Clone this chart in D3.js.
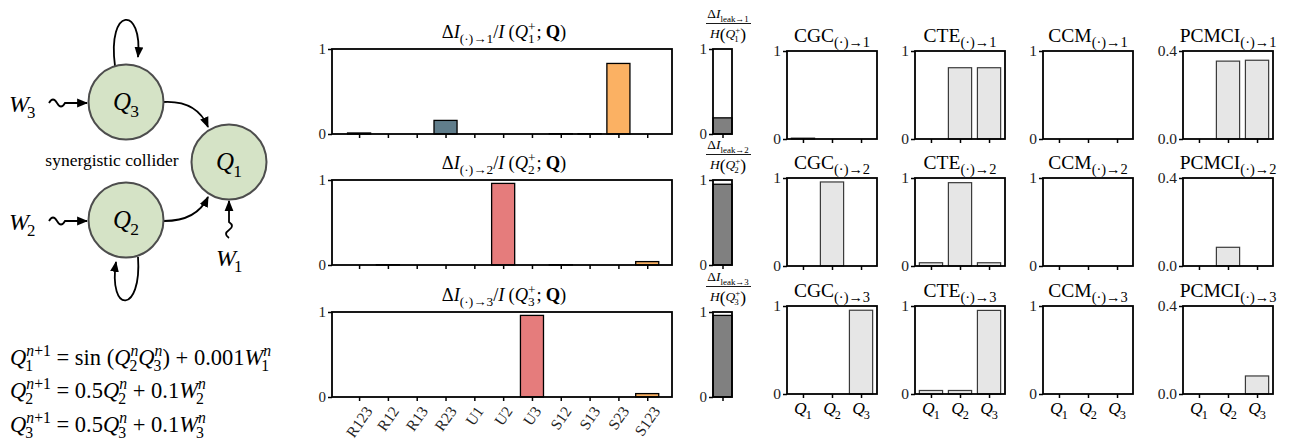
<!DOCTYPE html>
<html>
<head>
<meta charset="UTF-8" />
<script src="https://d3js.org/d3.v7.min.js"></script>
<style>
  body { margin: 0; background: #fff; }
  svg text { font-family: "Liberation Serif", "Times New Roman", serif; white-space: pre; }
</style>
</head>
<body>
<svg width="1293" height="444" font-family="Liberation Serif"></svg>
<script>
// ---- data ----
const cats = ["R123", "R12", "R13", "R23", "U1", "U2", "U3", "S12", "S13", "S23", "S123"];
const dI1 = [0.012, 0, 0, 0.16, 0, 0, 0, 0.004, 0.004, 0.83, 0];
const dI2 = [0, 0.004, 0, 0, 0, 0.96, 0, 0.003, 0, 0, 0.04];
const dI3 = [0, 0, 0, 0, 0, 0, 0.96, 0, 0, 0, 0.04];
const leak = [0.19, 0.95, 0.96];
const qNames = ["1", "2", "3"];
const cgc = [[0.01, 0, 0], [0, 0.955, 0], [0, 0, 0.952]];
const cte = [[0, 0.81, 0.81], [0.037, 0.947, 0.037], [0.04, 0.04, 0.95]];
const ccm = [[0, 0, 0], [0, 0, 0], [0, 0, 0]];
const pcmci = [[0, 0.354, 0.358], [0, 0.085, 0], [0, 0, 0.082]];

const typeColor = { R: "#607d8b", U: "#e57c7c", S: "#fbb163" };
const FONT = "Liberation Serif";

const svg = d3.select("svg");

// arrow head for the diagram
svg.append("defs").append("marker")
  .attr("id", "arr")
  .attr("viewBox", "0 0 10 10")
  .attr("refX", 9).attr("refY", 5)
  .attr("markerWidth", 11).attr("markerHeight", 11)
  .attr("markerUnits", "userSpaceOnUse")
  .attr("orient", "auto")
  .append("path").attr("d", "M0,1 L10,5 L0,9 z").attr("fill", "#000");

// append a sub/superscript run to a text element, single letters in italic
function script(t, str, x, y, fs) {
  let w = 0;
  str.split(/([a-zA-Z]+)/).filter(s => s).forEach((s, k) => {
    const sp = t.append("tspan")
      .attr("font-size", fs)
      .attr("font-style", /^[a-z]$/.test(s) ? "italic" : "normal")
      .text(s);
    if (k === 0) sp.attr("x", x).attr("y", y);
    w += sp.node().getComputedTextLength();
  });
  return w;
}

// small math-like text renderer: tokens with optional sub / sup
function mathLine(parent, tokens, size, anchor, subScale) {
  const ss = subScale || 0.7;
  const g = parent.append("g");
  let cx = 0;
  tokens.forEach(tok => {
    if (typeof tok === "string") tok = { t: tok };
    cx += tok.before || 0;
    const base = g.append("text")
      .attr("x", cx).attr("y", tok.dy || 0)
      .attr("xml:space", "preserve")
      .attr("font-family", FONT)
      .attr("font-size", size * (tok.sz || 1))
      .attr("font-style", tok.i ? "italic" : "normal")
      .attr("font-weight", tok.b ? "bold" : "normal")
      .text(tok.t);
    cx += base.node().getComputedTextLength();
    if (tok.sup || tok.sub) {
      // sub and sup share one text element so they can stack
      const st = g.append("text").attr("font-family", FONT).attr("x", cx).attr("y", 0);
      let sw = 0;
      if (tok.sup) {
        const dx = tok.supDx || 0;
        sw = Math.max(sw, dx + script(st, tok.sup, cx + dx, -size * 0.4, size * ss));
      }
      if (tok.sub) {
        const dx = tok.subDx || 0;
        sw = Math.max(sw, dx + script(st, tok.sub, cx + dx, size * 0.27, size * ss));
      }
      cx += sw;
    }
    cx += tok.after || 0;
  });
  const x0 = anchor === "middle" ? -cx / 2 : anchor === "end" ? -cx : 0;
  g.selectAll("text, tspan").filter(function () { return this.hasAttribute("x"); })
    .attr("x", function () { return +d3.select(this).attr("x") + x0; });
  return g;
}

function styleAxis(ax, fs) {
  ax.select(".domain").remove();
  ax.attr("font-family", FONT);
  ax.selectAll(".tick line").attr("stroke", "#000").attr("stroke-width", 1.5);
  ax.selectAll(".tick text").attr("font-size", fs).attr("fill", "#222").attr("font-family", FONT);
}

// ---- left: diagram ----
const diag = svg.append("g");
const nodes = [
  { id: "3", cx: 126, cy: 102 },
  { id: "1", cx: 229, cy: 162 },
  { id: "2", cx: 126, cy: 220 }
];
const edges = [
  "M164,102 C186,101 201,110 208,127",
  "M164,221 C186,221 201,212 208,197",
  "M115,66 C107,6 143,6 138,57",
  "M138,257 C142,314 108,314 116,262",
  "M49,103 q4,-7 8,0 t8,0 L87,103",
  "M49,221 q4,-7 8,0 t8,0 L87,221",
  "M229,238 q-6,-4 0,-8 t0,-8 L229,201"
];
diag.selectAll("path.edge").data(edges).join("path")
  .attr("class", "edge")
  .attr("d", d => d)
  .attr("fill", "none")
  .attr("stroke", "#000")
  .attr("stroke-width", 1.8)
  .attr("marker-end", "url(#arr)");

diag.selectAll("circle").data(nodes).join("circle")
  .attr("cx", d => d.cx).attr("cy", d => d.cy).attr("r", 37.5)
  .attr("fill", "#d5e3c6").attr("stroke", "#4d4d4d").attr("stroke-width", 2);

nodes.forEach(n => {
  const g = diag.append("g").attr("transform", `translate(${n.cx},${n.cy + 8})`);
  mathLine(g, [{ t: "Q", i: 1, sub: n.id, subDx: -1 }], 25, "middle");
});

[["3", 9, 112], ["2", 9, 230], ["1", 216, 266]].forEach(([k, x, y]) => {
  const g = diag.append("g").attr("transform", `translate(${x},${y})`);
  mathLine(g, [{ t: "W", i: 1, sub: k, subDx: -2 }], 24, "start");
});

diag.append("text")
  .attr("x", 112).attr("y", 166)
  .attr("text-anchor", "middle")
  .attr("font-family", FONT)
  .attr("font-size", 17.5)
  .text("synergistic collider");

// equations
const eqs = [
  [{ t: "Q", i: 1, sub: "1", sup: "n+1", subDx: -1 }, " = sin (",
   { t: "Q", i: 1, sub: "2", sup: "n", subDx: -1 }, { t: "Q", i: 1, sub: "3", sup: "n", subDx: -1 },
   ") + 0.001", { t: "W", i: 1, sub: "1", sup: "n", subDx: -2 }],
  [{ t: "Q", i: 1, sub: "2", sup: "n+1", subDx: -1 }, " = 0.5",
   { t: "Q", i: 1, sub: "2", sup: "n", subDx: -1 }, " + 0.1", { t: "W", i: 1, sub: "2", sup: "n", subDx: -2 }],
  [{ t: "Q", i: 1, sub: "3", sup: "n+1", subDx: -1 }, " = 0.5",
   { t: "Q", i: 1, sub: "3", sup: "n", subDx: -1 }, " + 0.1", { t: "W", i: 1, sub: "3", sup: "n", subDx: -2 }]
];
const eqY = [365, 398, 432];
eqs.forEach((tokens, k) => {
  const g = svg.append("g").attr("transform", `translate(10,${eqY[k]})`);
  mathLine(g, tokens, 22.5, "start");
});

// ---- middle: information decomposition bars ----
const mainTops = [49, 180, 312];
const mainH = 85;
const xMain = d3.scaleLinear().domain([-0.94, 10.86]).range([332, 672]);
const xLeak = d3.scaleLinear().domain([-0.5, 0.5]).range([713, 732]);
const dIs = [dI1, dI2, dI3];

dIs.forEach((vals, r) => {
  const top = mainTops[r];
  const y = d3.scaleLinear().domain([0, 1]).range([top + mainH, top]);
  const g = svg.append("g");

  const bars = vals.map((v, i) => ({ v, i, c: cats[i] })).filter(d => d.v > 0);
  g.selectAll("rect").data(bars).join("rect")
    .attr("x", d => xMain(d.i - 0.4))
    .attr("width", xMain(0.8) - xMain(0))
    .attr("y", d => y(d.v))
    .attr("height", d => y(0) - y(d.v))
    .attr("fill", d => typeColor[d.c[0]])
    .attr("stroke", "#000")
    .attr("stroke-width", 1.3);

  g.append("rect")
    .attr("x", xMain.range()[0]).attr("y", top)
    .attr("width", xMain.range()[1] - xMain.range()[0]).attr("height", mainH)
    .attr("fill", "none").attr("stroke", "#000").attr("stroke-width", 1.8);

  const ay = g.append("g").attr("transform", `translate(${xMain.range()[0]},0)`)
    .call(d3.axisLeft(y).tickValues([0, 1]).tickSize(4).tickPadding(2).tickFormat(d3.format("d")));
  styleAxis(ay, 15);

  const ax = g.append("g").attr("transform", `translate(0,${top + mainH})`)
    .call(d3.axisBottom(xMain).tickValues(d3.range(cats.length)).tickSize(4).tickFormat(""));
  styleAxis(ax, 15);

  const tg = svg.append("g").attr("transform", `translate(504,${top - 11})`);
  mathLine(tg, [{ t: "Δ" }, { t: "I", i: 1, sub: "(·)→" + (r + 1) }, "/",
    { t: "I", i: 1, after: 4 }, "(", { t: "Q", i: 1, sub: String(r + 1), sup: "+", after: 1 },
    { t: ";", after: 4 }, { t: "Q", b: 1 }, ")"], 18.5, "middle", 0.72);

  // leak bar
  const lg = svg.append("g");
  lg.append("rect")
    .attr("x", xLeak(-0.5)).attr("width", xLeak(0.5) - xLeak(-0.5))
    .attr("y", y(leak[r])).attr("height", y(0) - y(leak[r]))
    .attr("fill", "#808080").attr("stroke", "#000").attr("stroke-width", 1.3);
  lg.append("rect")
    .attr("x", xLeak(-0.5)).attr("y", top)
    .attr("width", xLeak(0.5) - xLeak(-0.5)).attr("height", mainH)
    .attr("fill", "none").attr("stroke", "#000").attr("stroke-width", 1.8);
  const ly = lg.append("g").attr("transform", `translate(${xLeak(-0.5)},0)`)
    .call(d3.axisLeft(y).tickValues([0, 1]).tickSize(4).tickPadding(2).tickFormat(d3.format("d")));
  styleAxis(ly, 15);
  const lx = lg.append("g").attr("transform", `translate(0,${top + mainH})`)
    .call(d3.axisBottom(xLeak).tickValues([0]).tickSize(4).tickFormat(""));
  styleAxis(lx, 15);

  // leak fraction title
  const fg = svg.append("g").attr("transform", `translate(728,${top})`);
  const ng = fg.append("g").attr("transform", "translate(0,-31)");
  mathLine(ng, [{ t: "Δ" }, { t: "I", i: 1, sub: "leak→" + (r + 1) }], 13.5, "middle", 0.66);
  fg.append("line").attr("x1", -22).attr("x2", 23).attr("y1", -25.5).attr("y2", -25.5)
    .attr("stroke", "#000").attr("stroke-width", 0.9);
  const dg = fg.append("g").attr("transform", "translate(0,-11)");
  mathLine(dg, [{ t: "H", i: 1 }, { t: "(", sz: 1.3, dy: 1.5 },
    { t: "Q", i: 1, sub: String(r + 1), sup: "+", subDx: -1 }, { t: ")", sz: 1.3, dy: 1.5 }], 13.5, "middle", 0.66);
});

// rotated category labels under the last row
const lblTop = mainTops[2] + mainH + 8;
const rot = 55;
cats.forEach((c, i) => {
  const t = svg.append("text")
    .attr("font-family", FONT)
    .attr("font-size", 15.5)
    .attr("fill", "#222")
    .attr("text-anchor", "middle")
    .attr("dominant-baseline", "central")
    .text(c);
  const L = t.node().getComputedTextLength();
  const hgt = 10.5;
  const a = rot * Math.PI / 180;
  const H = L * Math.sin(a) + hgt * Math.cos(a);
  const cx = xMain(i), cy = lblTop + H / 2;
  t.attr("x", cx).attr("y", cy).attr("transform", `rotate(${-rot},${cx},${cy})`);
});

// ---- right: baseline methods ----
const methods = ["CGC", "CTE", "CCM", "PCMCI"];
const methodVals = [cgc, cte, ccm, pcmci];
const methodMax = [1, 1, 1, 0.4];
const sideLefts = [787, 915, 1043, 1183];
const sideW = 90;
const sideTops = [51, 178, 306];
const sideH = 88;

methods.forEach((m, j) => {
  const x = d3.scaleLinear().domain([-0.55, 2.55]).range([sideLefts[j], sideLefts[j] + sideW]);
  sideTops.forEach((top, r) => {
    const y = d3.scaleLinear().domain([0, methodMax[j]]).range([top + sideH, top]);
    const g = svg.append("g");
    const bars = methodVals[j][r].map((v, i) => ({ v, i })).filter(d => d.v > 0);
    g.selectAll("rect").data(bars).join("rect")
      .attr("x", d => x(d.i - 0.4))
      .attr("width", x(0.8) - x(0))
      .attr("y", d => y(d.v))
      .attr("height", d => y(0) - y(d.v))
      .attr("fill", "#e6e6e6")
      .attr("stroke", "#3a3a3a")
      .attr("stroke-width", 1.2);

    g.append("rect")
      .attr("x", x.range()[0]).attr("y", top)
      .attr("width", sideW).attr("height", sideH)
      .attr("fill", "none").attr("stroke", "#000").attr("stroke-width", 1.8);

    const fmt = methodMax[j] < 1 ? d3.format(".1f") : d3.format("d");
    const ay = g.append("g").attr("transform", `translate(${x.range()[0]},0)`)
      .call(d3.axisLeft(y).tickValues([0, methodMax[j]]).tickSize(4).tickPadding(2).tickFormat(fmt));
    styleAxis(ay, 15.5);
    const ax = g.append("g").attr("transform", `translate(0,${top + sideH})`)
      .call(d3.axisBottom(x).tickValues([0, 1, 2]).tickSize(4).tickFormat(""));
    styleAxis(ax, 15);

    const tg = svg.append("g").attr("transform", `translate(${sideLefts[j] + sideW / 2},${top - 9})`);
    mathLine(tg, [{ t: m, sub: "(·)→" + (r + 1) }], 19.5, "middle", 0.74);

    if (r === 2) {
      qNames.forEach((q, i) => {
        const qg = svg.append("g").attr("transform", `translate(${x(i)},${top + sideH + 20})`);
        mathLine(qg, [{ t: "Q", i: 1, sub: q, subDx: -1 }], 17.5, "middle");
      });
    }
  });
});
</script>
</body>
</html>
